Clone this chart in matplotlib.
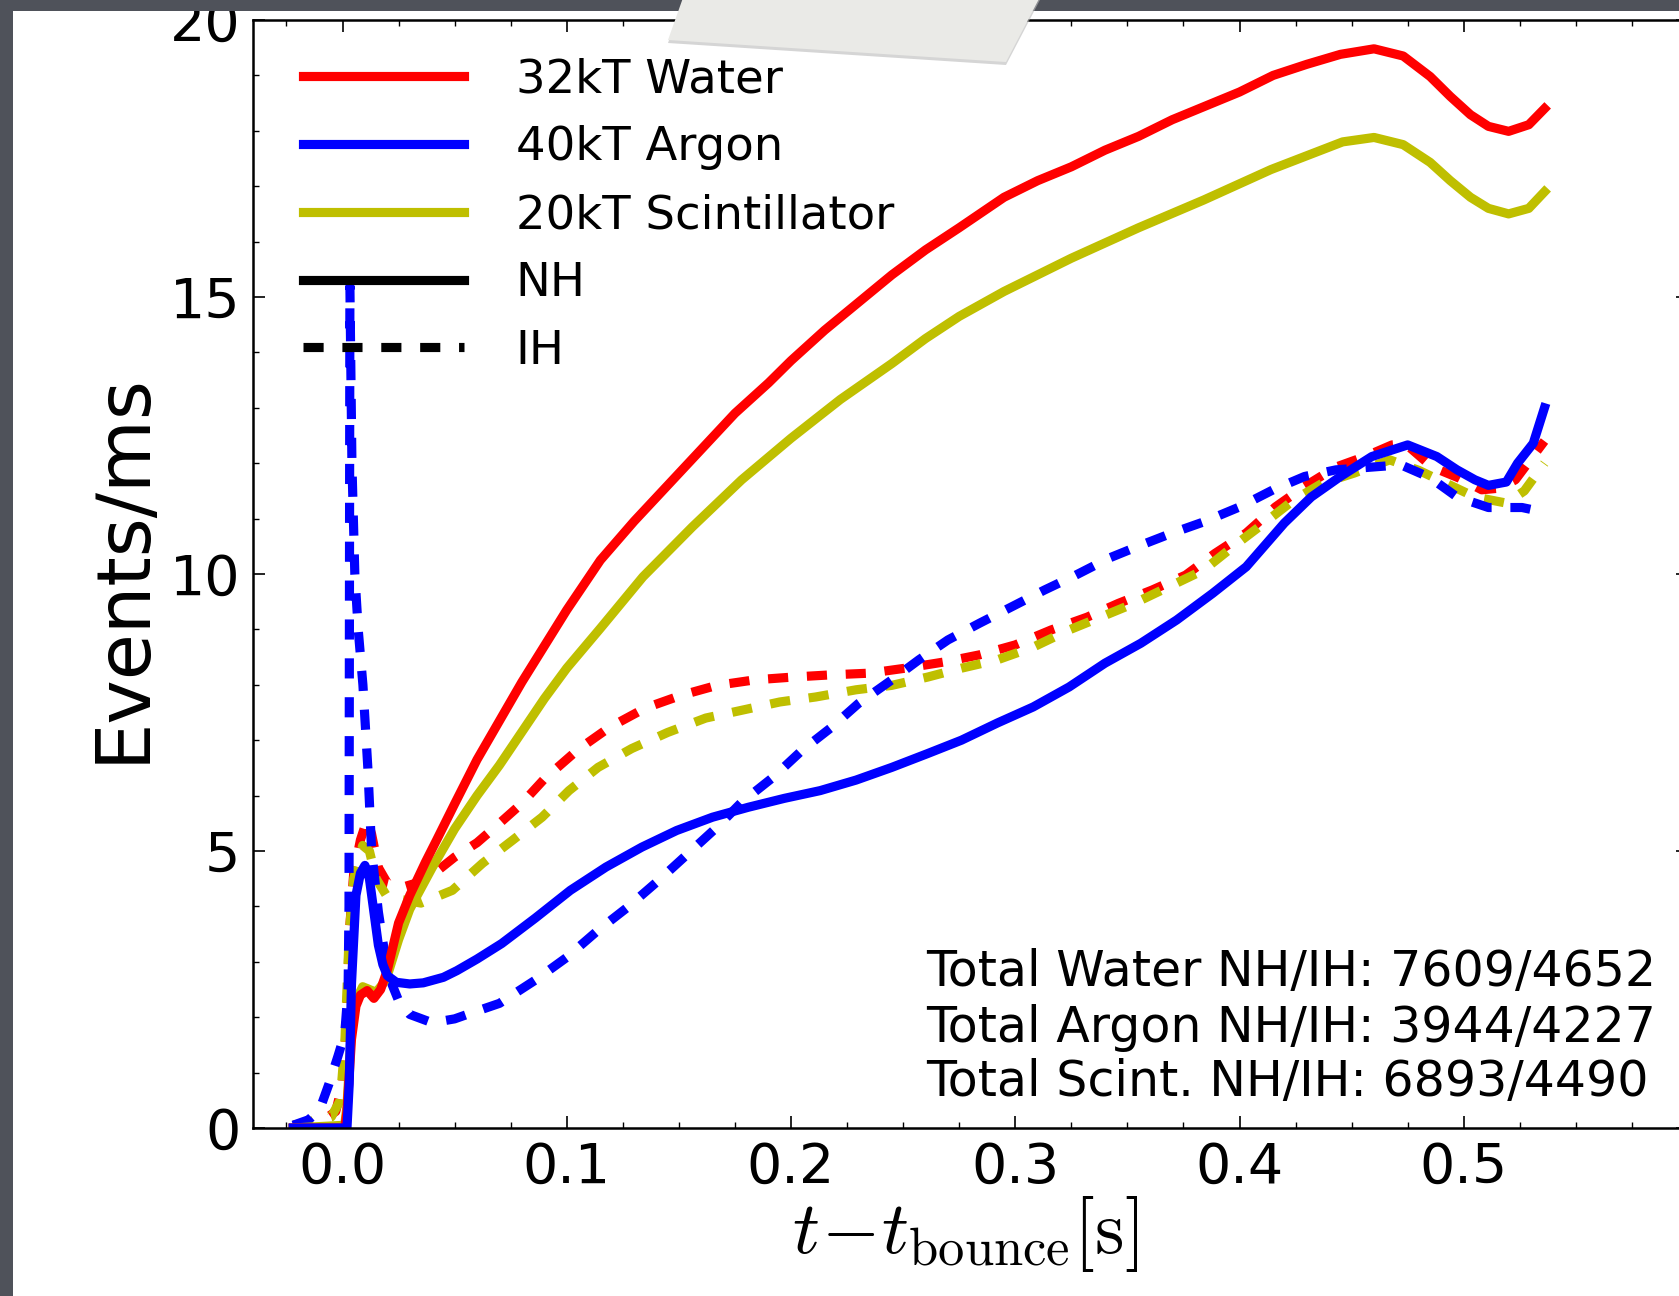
import matplotlib
matplotlib.use("Agg")
import matplotlib.pyplot as plt
from matplotlib.patches import Polygon, Rectangle
from matplotlib.lines import Line2D
from matplotlib.ticker import MultipleLocator, FixedLocator

# ---------------------------------------------------------------- data
# Event rates (events/ms) versus time after core bounce (s)
t_water_nh = [-0.022, 0.001, 0.002, 0.004, 0.006, 0.008, 0.011, 0.014, 0.017, 0.020,
              0.025, 0.030, 0.037, 0.042, 0.050, 0.060, 0.070, 0.080, 0.090, 0.100,
              0.115, 0.130, 0.145, 0.160, 0.175, 0.190, 0.200, 0.215, 0.230, 0.245,
              0.260, 0.275, 0.295, 0.310, 0.325, 0.340, 0.355, 0.370, 0.385, 0.400,
              0.415, 0.430, 0.445, 0.460, 0.473, 0.485, 0.494, 0.503, 0.511, 0.520,
              0.529, 0.536]
water_nh = [0.0, 0.0, 0.3, 1.6, 2.2, 2.4, 2.48, 2.34, 2.5, 2.85,
            3.7, 4.2, 4.8, 5.2, 5.85, 6.65, 7.35, 8.05, 8.7, 9.35,
            10.25, 10.95, 11.6, 12.25, 12.9, 13.45, 13.85, 14.4, 14.9, 15.4,
            15.85, 16.25, 16.8, 17.1, 17.35, 17.65, 17.9, 18.2, 18.45, 18.7,
            19.0, 19.2, 19.38, 19.48, 19.35, 18.98, 18.62, 18.29, 18.08, 17.99,
            18.11, 18.4]

t_water_ih = [-0.022, -0.010, -0.003, 0.000, 0.002, 0.003, 0.005, 0.008, 0.011, 0.013,
              0.016, 0.020, 0.027, 0.037, 0.050, 0.060, 0.070, 0.080, 0.090, 0.105,
              0.119, 0.135, 0.151, 0.167, 0.184, 0.201, 0.218, 0.235, 0.251, 0.268,
              0.284, 0.300, 0.316, 0.332, 0.346, 0.361, 0.376, 0.389, 0.403, 0.416,
              0.429, 0.443, 0.456, 0.468, 0.474, 0.486, 0.498, 0.508, 0.516, 0.523,
              0.536]
water_ih = [0.05, 0.1, 0.3, 0.8, 2.0, 3.5, 4.6, 5.2, 5.57, 5.3,
            4.7, 4.42, 4.35, 4.47, 4.89, 5.15, 5.5, 5.86, 6.3, 6.83,
            7.23, 7.58, 7.81, 7.99, 8.09, 8.14, 8.18, 8.21, 8.30, 8.41,
            8.54, 8.72, 8.99, 9.22, 9.47, 9.71, 9.98, 10.37, 10.74, 11.21,
            11.58, 11.93, 12.12, 12.33, 12.35, 11.93, 11.73, 11.52, 11.55, 11.7,
            12.4]

t_argon_nh = [-0.022, 0.002, 0.003, 0.004, 0.006, 0.008, 0.010, 0.012, 0.014, 0.016,
              0.018, 0.020, 0.024, 0.030, 0.036, 0.045, 0.051, 0.060, 0.071, 0.086,
              0.1016, 0.1175, 0.1335, 0.149, 0.165, 0.181, 0.197, 0.213, 0.229, 0.245,
              0.261, 0.276, 0.292, 0.308, 0.324, 0.340, 0.356, 0.372, 0.388, 0.403,
              0.420, 0.432, 0.445, 0.459, 0.475, 0.488, 0.497, 0.505, 0.511, 0.519,
              0.524, 0.531, 0.536]
argon_nh = [0.0, 0.0, 0.8, 2.6, 4.2, 4.6, 4.74, 4.5, 3.9, 3.3,
            2.95, 2.75, 2.63, 2.6, 2.62, 2.72, 2.84, 3.05, 3.33, 3.79,
            4.29, 4.71, 5.07, 5.37, 5.61, 5.79, 5.95, 6.09, 6.28, 6.51,
            6.76, 7.0, 7.31, 7.6, 7.96, 8.39, 8.75, 9.17, 9.65, 10.13,
            10.92, 11.39, 11.76, 12.12, 12.33, 12.12, 11.88, 11.7, 11.6, 11.66,
            12.0, 12.36, 13.0]

t_argon_ih = [-0.022, -0.015, -0.010, -0.006, -0.002, 0.001, 0.0025, 0.0029, 0.0033, 0.0042,
              0.0055, 0.0070, 0.0091, 0.0113, 0.013, 0.016, 0.019, 0.022, 0.025, 0.030,
              0.040, 0.050, 0.057, 0.070, 0.086, 0.100, 0.114, 0.127, 0.141, 0.154,
              0.167, 0.178, 0.192, 0.205, 0.218, 0.230, 0.245, 0.257, 0.270, 0.284,
              0.299, 0.313, 0.327, 0.342, 0.356, 0.370, 0.384, 0.400, 0.415, 0.429,
              0.443, 0.459, 0.472, 0.485, 0.497, 0.511, 0.526, 0.533]
argon_ih = [0.05, 0.15, 0.35, 0.8, 1.3, 1.7, 2.5, 4.0, 15.2, 12.0,
            10.0, 9.0, 8.0, 6.5, 5.0, 3.9, 3.1, 2.6, 2.3, 2.05,
            1.9, 1.97, 2.07, 2.25, 2.67, 3.08, 3.57, 3.98, 4.47, 4.95,
            5.43, 5.88, 6.33, 6.82, 7.23, 7.66, 8.09, 8.45, 8.81, 9.11,
            9.42, 9.71, 9.98, 10.29, 10.52, 10.74, 10.94, 11.21, 11.52, 11.76,
            11.88, 11.93, 11.97, 11.74, 11.39, 11.2, 11.2, 11.14]

t_scint_nh = [-0.022, 0.001, 0.002, 0.004, 0.006, 0.009, 0.012, 0.015, 0.018, 0.020,
              0.025, 0.030, 0.040, 0.050, 0.060, 0.070, 0.080, 0.090, 0.100, 0.115,
              0.134, 0.156, 0.178, 0.200, 0.222, 0.245, 0.260, 0.275, 0.295, 0.325,
              0.355, 0.384, 0.414, 0.430, 0.446, 0.460, 0.473, 0.485, 0.494, 0.503,
              0.511, 0.520, 0.529, 0.536]
scint_nh = [0.0, 0.05, 0.4, 1.8, 2.3, 2.55, 2.5, 2.45, 2.6, 2.75,
            3.4, 3.95, 4.7, 5.4, 6.0, 6.55, 7.15, 7.75, 8.3, 9.02,
            9.95, 10.85, 11.7, 12.45, 13.15, 13.8, 14.25, 14.65, 15.1, 15.7,
            16.25, 16.75, 17.3, 17.55, 17.8, 17.88, 17.75, 17.43, 17.1, 16.8,
            16.6, 16.5, 16.6, 16.9]

t_scint_ih = [-0.022, -0.005, -0.001, 0.001, 0.003, 0.005, 0.009, 0.012, 0.015, 0.020,
              0.035, 0.049, 0.0625, 0.0757, 0.089, 0.101, 0.114, 0.129, 0.145, 0.162,
              0.178, 0.195, 0.211, 0.229, 0.245, 0.261, 0.276, 0.292, 0.308, 0.324,
              0.338, 0.353, 0.368, 0.384, 0.397, 0.411, 0.424, 0.437, 0.451, 0.467,
              0.480, 0.492, 0.505, 0.519, 0.527, 0.536]
scint_ih = [0.05, 0.2, 0.5, 1.5, 3.5, 4.5, 5.1, 5.0, 4.5, 4.17,
            4.06, 4.29, 4.78, 5.19, 5.61, 6.09, 6.51, 6.85, 7.14, 7.4,
            7.54, 7.69, 7.78, 7.91, 7.99, 8.14, 8.3, 8.45, 8.68, 8.99,
            9.22, 9.47, 9.76, 10.07, 10.49, 10.92, 11.33, 11.64, 11.82, 12.06,
            11.87, 11.64, 11.39, 11.28, 11.5, 12.0]

legend_labels = ["32kT Water", "40kT Argon", "20kT Scintillator", "NH", "IH"]
totals = ["Total Water NH/IH: 7609/4652",
          "Total Argon NH/IH: 3944/4227",
          "Total Scint. NH/IH: 6893/4490"]
x_ticks = [0.0, 0.1, 0.2, 0.3, 0.4, 0.5]

# ---------------------------------------------------------------- style
W, H = 1679, 1296
RED, BLUE, YEL = "#ff0000", "#0000ff", "#bfbf00"
DARK = "#4f525a"
LW = 6.6
DASH = (0, (14.5, 13.5))

plt.rcParams.update({
    "font.family": ["DejaVu Sans"],
    "mathtext.fontset": "cm",
    "lines.scale_dashes": False,
    "lines.dash_capstyle": "butt",
})

fig = plt.figure(figsize=(W / 100, H / 100), dpi=100, facecolor="white")
ax_left, ax_right, ax_top, ax_bot = 252.8, 1688.0, 20.0, 1128.0
ax = fig.add_axes([ax_left / W, 1 - ax_bot / H,
                   (ax_right - ax_left) / W, (ax_bot - ax_top) / H])

# dashed (IH) curves first, solid (NH) curves on top
ax.plot(t_water_ih, water_ih, color=RED, lw=LW, ls=DASH)
ax.plot(t_scint_ih, scint_ih, color=YEL, lw=LW, ls=DASH)
ax.plot(t_argon_ih, argon_ih, color=BLUE, lw=LW, ls=DASH)
ax.plot(t_scint_nh, scint_nh, color=YEL, lw=LW)
ax.plot(t_water_nh, water_nh, color=RED, lw=LW)
ax.plot(t_argon_nh, argon_nh, color=BLUE, lw=LW)

ax.set_xlim(-0.04, 0.6)
ax.set_ylim(0, 20)
ax.xaxis.set_major_locator(FixedLocator(x_ticks))
ax.xaxis.set_minor_locator(MultipleLocator(0.025))
ax.yaxis.set_major_locator(MultipleLocator(5))
ax.yaxis.set_minor_locator(MultipleLocator(1))
ax.tick_params(which="both", direction="in", top=True, right=True)
ax.tick_params(which="major", length=8.6, width=1.2, labelsize=40, pad=9)
ax.tick_params(which="minor", length=4.3, width=1.0)
for sp in ax.spines.values():
    sp.set_linewidth(1.8)

ax.set_xlabel(r"$t\!-\!t_{\rm bounce}[\rm s]$", fontsize=54)
ax.xaxis.set_label_coords(965 / W, 1 - 1194 / H, transform=fig.transFigure)
ax.set_ylabel("Events/ms", fontsize=54)
ax.yaxis.set_label_coords(160 / W, 1 - 567.5 / H, transform=fig.transFigure)

handles = [Line2D([], [], color=RED, lw=LW),
           Line2D([], [], color=BLUE, lw=LW),
           Line2D([], [], color=YEL, lw=LW),
           Line2D([], [], color="black", lw=LW),
           Line2D([], [], color="black", lw=LW, ls=DASH)]
ax.legend(handles, legend_labels, loc="upper left",
          bbox_to_anchor=((303 - ax_left) / (ax_right - ax_left),
                          1 - (57.5 - ax_top) / (ax_bot - ax_top)),
          frameon=False, fontsize=33.5, handlelength=3.45, handletextpad=1.12,
          labelspacing=0.49, borderpad=0, borderaxespad=0)

for s, yb in zip(totals, [2.56, 1.55, 0.58]):
    ax.text(0.2601, yb, s, fontsize=35.3, ha="left", va="baseline")

# slide frame around the chart
fig.patches.append(Rectangle((0, 1 - 11 / H), 1, 11 / H, transform=fig.transFigure,
                             facecolor=DARK, edgecolor="none", zorder=10))
fig.patches.append(Rectangle((0, 0), 13 / W, 1, transform=fig.transFigure,
                             facecolor=DARK, edgecolor="none", zorder=10))

# strip of tape over the top edge
tape = [(684, -5), (1041, -5), (1006, 62), (668, 40)]
shadow = [(x, y + 3) for x, y in tape]
fig.patches.append(Polygon([(x / W, 1 - y / H) for x, y in shadow], closed=True,
                           transform=fig.transFigure, facecolor="#b9b9b9",
                           edgecolor="none", alpha=0.6, zorder=11))
fig.patches.append(Polygon([(x / W, 1 - y / H) for x, y in tape], closed=True,
                           transform=fig.transFigure, facecolor="#eaeae7",
                           edgecolor="none", zorder=12))

fig.savefig("out.png", dpi=100, facecolor="white")
